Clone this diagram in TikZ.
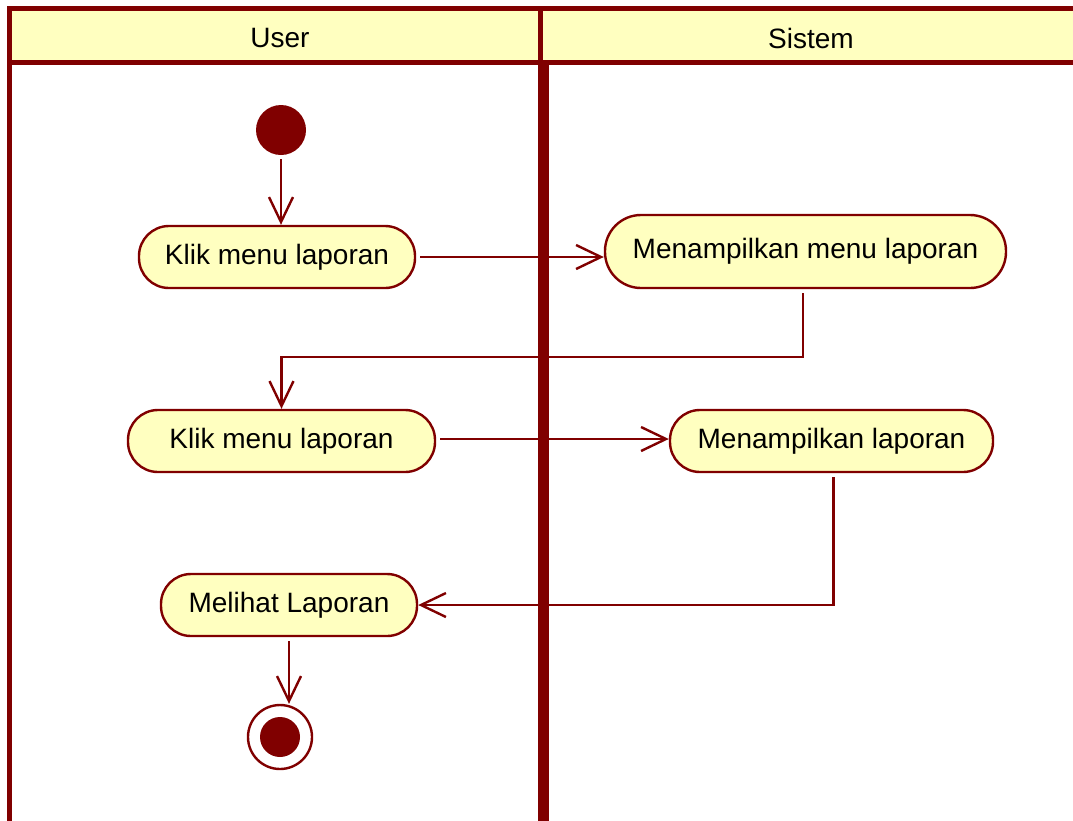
\documentclass[tikz,border=0pt]{standalone}
\usepackage{fontspec}
\setmainfont{Liberation Sans}
\usepackage{xcolor}
\usetikzlibrary{arrows.meta,calc,positioning}

\definecolor{umlred}{HTML}{800000}
\definecolor{umlfill}{HTML}{FFFFC0}

\begin{document}
\begin{tikzpicture}[x=1pt, y=-1pt, >={Straight Barb[length=25pt,width=24pt]}]

    % Styles
    \tikzset{
        lane/.style={draw=umlred, line width=5pt},
        lanetitle/.style={font=\fontsize{28}{32}\selectfont, text=black},
        action/.style={rectangle, rounded corners=30pt, draw=umlred, fill=umlfill,
            line width=2.4pt, minimum height=62pt, inner sep=0pt,
            font=\fontsize{28}{32}\selectfont, text=black},
        startdot/.style={circle, fill=umlred, minimum size=50pt, inner sep=0pt},
        enddot/.style={circle, draw=umlred, fill=white, line width=2.4pt,
            minimum size=64pt, inner sep=0pt},
        flow/.style={->, draw=umlred, line width=2.4pt, shorten <=4pt}
    }

    \useasboundingbox (0,0) rectangle (1073,820);

    % Swimlanes
    \fill[umlfill] (9.5,8.5) rectangle (1080,62.5);
    \draw[lane, line join=miter] (1080,8.5) -- (9.5,8.5) -- (9.5,826);
    \draw[lane] (9.5,62.5) -- (1080,62.5);
    \draw[lane] (540.5,8.5) -- (540.5,62.5);
    \draw[lane, line width=11pt] (543,62.5) -- (543,826);

    \node[lanetitle] (user) at (280,38) {User};
    \node[lanetitle] (sistem) at (811,38) {Sistem};

    % Start and end
    \node[startdot] (start) at (281,130) {};
    \node[enddot] (fin) at (280,737) {};
    \fill[umlred] (fin) circle (20);

    % Actions
    \node[action, minimum width=276pt] (a1) at (277,257) {Klik menu laporan};
    \node[action, minimum width=401pt, minimum height=73pt, rounded corners=36pt]
        (a2) at (805.5,251.5) {Menampilkan menu laporan};
    \node[action, minimum width=307pt] (a3) at (281.5,441) {Klik menu laporan};
    \node[action, minimum width=323pt] (a4) at (831.5,441) {Menampilkan laporan};
    \node[action, minimum width=256pt] (a5) at (289,605) {Melihat Laporan};

    % Bend point between the lanes
    \coordinate (b1) at (803,357);

    % Flows
    \draw[flow] (start.south) -- (start.south |- a1.north);
    \draw[flow] (a1.east) -- (a1.east -| a2.west);
    \draw[flow] (a2.south -| b1) -- (b1) -| (a3.north);
    \draw[flow] ([yshift=2pt]a3.east) -- ([yshift=2pt]a3.east -| a4.west);
    \draw[flow] ([xshift=2pt]a4.south) |- (a5.east);
    \draw[flow] (a5.south) -- (a5.south |- fin.north);

\end{tikzpicture}
\end{document}
